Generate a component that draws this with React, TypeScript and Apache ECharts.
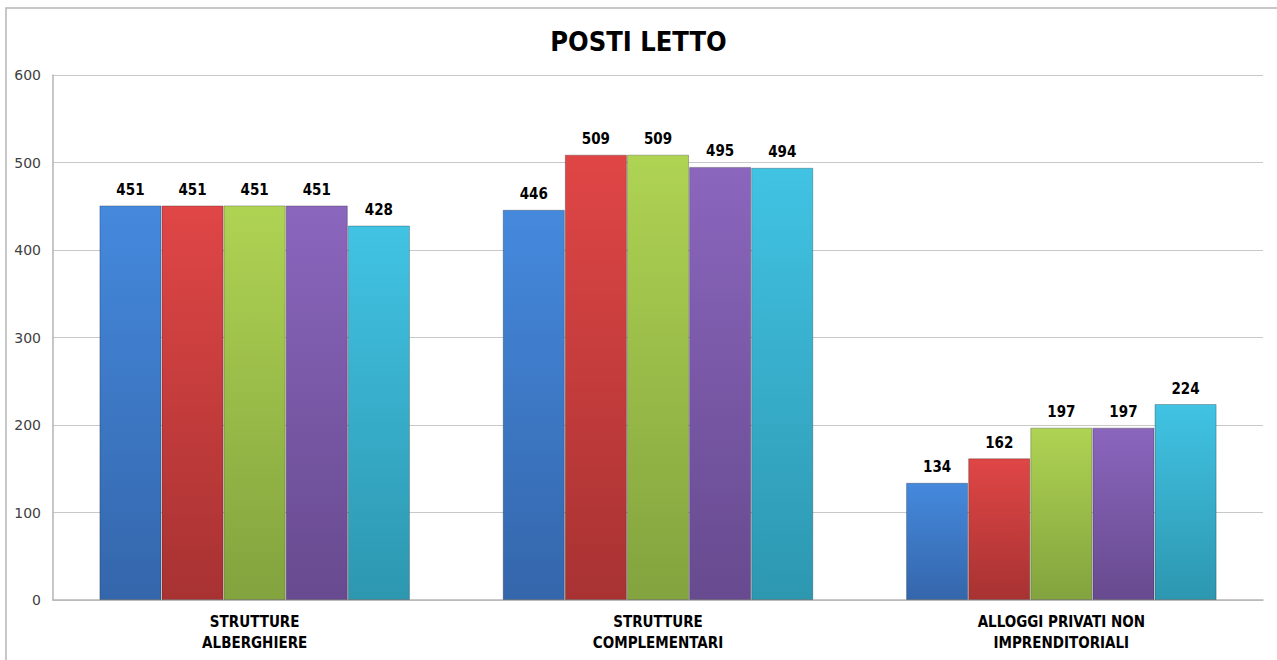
import React, { useEffect, useRef } from "react";
import * as echarts from "echarts";

const categories = ["STRUTTURE\nALBERGHIERE", "STRUTTURE\nCOMPLEMENTARI", "ALLOGGI PRIVATI NON\nIMPRENDITORIALI"];
const seriesA = [451, 446, 134];
const seriesB = [451, 509, 162];
const seriesC = [451, 509, 197];
const seriesD = [451, 495, 197];
const seriesE = [428, 494, 224];
const yTicks = { min: 0, max: 600, interval: 100 };

const palette = [
  ["#4589dd", "#3466ab"],
  ["#e04646", "#a83232"],
  ["#afd353", "#82a33e"],
  ["#8a66bd", "#674a8f"],
  ["#41c3e3", "#2d97b0"],
];

const narrow = "'DejaVu Sans Condensed', 'Liberation Sans Narrow', 'Liberation Sans', Arial";

function grad(top: string, bottom: string) {
  return new echarts.graphic.LinearGradient(0, 0, 0, 1, [
    { offset: 0, color: top },
    { offset: 1, color: bottom },
  ]);
}

export default function App() {
  const ref = useRef<HTMLDivElement>(null);
  useEffect(() => {
    if (!ref.current) return;
    const chart = echarts.init(ref.current, undefined, { renderer: "svg" });
    const all = [seriesA, seriesB, seriesC, seriesD, seriesE];
    chart.setOption({
      animation: false,
      backgroundColor: "#ffffff",
      graphic: [
        {
          type: "rect",
          shape: { x: 6, y: 8, width: 1400, height: 800 },
          style: { fill: "none", stroke: "#b5b5b5", lineWidth: 1.5 },
          z: -1,
        },
      ],
      title: {
        text: "POSTI LETTO",
        left: "center",
        top: 23,
        textStyle: {
          fontFamily: narrow,
          fontWeight: "bold",
          fontSize: 27,
          color: "#000",
        },
      },
      grid: { left: 53, right: 14, top: 75, bottom: 60, containLabel: false },
      xAxis: {
        type: "category",
        data: categories,
        axisLine: { show: true, lineStyle: { color: "#b5b5b5", width: 1.5 } },
        axisTick: { show: false },
        axisLabel: {
          color: "#000",
          fontWeight: "bold",
          fontSize: 15,
          fontFamily: narrow,
          lineHeight: 21,
          margin: 11,
        },
      },
      yAxis: {
        type: "value",
        min: yTicks.min,
        max: yTicks.max,
        interval: yTicks.interval,
        axisLine: { show: true, lineStyle: { color: "#b5b5b5", width: 1.5 } },
        axisTick: { show: false },
        splitLine: { lineStyle: { color: "#c8c8c8", width: 1.2 } },
        axisLabel: {
          color: "#404040",
          fontSize: 14,
          fontFamily: "'DejaVu Sans', 'Liberation Sans', Arial",
          margin: 12,
        },
      },
      series: all.map((d, i) => ({
        type: "bar",
        data: d,
        barGap: "0%",
        barCategoryGap: "23%",
        itemStyle: {
          color: grad(palette[i][0], palette[i][1]),
          borderColor: "rgba(0,0,0,0.25)",
          borderWidth: 1,
        },
        label: {
          show: true,
          position: "top",
          distance: 8,
          color: "#000",
          fontWeight: "bold",
          fontSize: 15,
          fontFamily: narrow,
        },
      })),
    });
    return () => chart.dispose();
  }, []);
  return (
    <div
      ref={ref}
      style={{ position: "fixed", left: 0, top: 0, width: 1277, height: 660 }}
    />
  );
}
